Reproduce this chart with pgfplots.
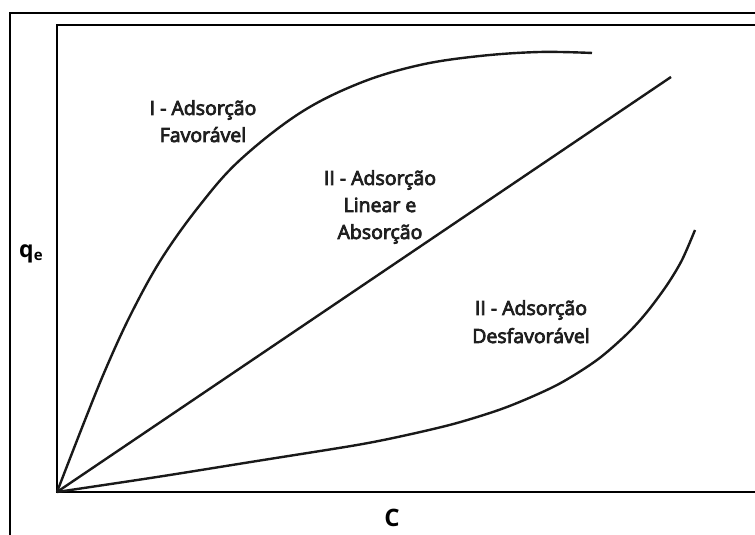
\documentclass[border=0pt]{standalone}
\usepackage{pgfplots}
\pgfplotsset{compat=1.18}
\usepackage{fontspec}
\setmainfont{Open Sans}
\newfontfamily\semibold{Open Sans}[FakeBold=4]

% curve data (C, q_e) in drawing units
\pgfplotstableread{
x y
0 0
28 72
50 126
75 180
105 234
143 287
183 332
243 379
303 409
363 427
423 436
483 440
535 439
}\favoravel
\pgfplotstableread{
x y
0 0
614 415
}\linear
\pgfplotstableread{
x y
0 0
100 15
200 31
300 47
350 57
400 69
450 85
500 107
540 132
570 158
590 180
610 207
625 232
638 262
}\desfavoravel

\begin{document}
\begin{tikzpicture}[x=1bp,y=1bp]
\useasboundingbox (0,0) rectangle (755,535);
% outer frame
\draw[line width=1.6bp,black] (10,-20) -- (10,522) -- (790,522);
\begin{axis}[
  at={(57bp,43bp)}, anchor=south west,
  scale only axis, width=710bp, height=467bp,
  xmin=0, xmax=710, ymin=0, ymax=467,
  ticks=none,
  axis line style={line width=1.6bp, black},
  clip=false,
]
\addplot[line width=2.4bp, color=black!90, smooth, tension=0.6] table {\favoravel};
\addplot[line width=2.4bp, color=black!90] table {\linear};
\addplot[line width=2.4bp, color=black!90, smooth, tension=0.5] table {\desfavoravel};

\begin{scope}[every node/.style={anchor=base, font=\semibold\fontsize{19.5bp}{23bp}\selectfont, text=black!88}]
\node at (axis cs:146,377) {I - Adsorção};
\node at (axis cs:146,350) {Favorável};
\node at (axis cs:323,307) {II - Adsorção};
\node at (axis cs:323,280) {Linear e};
\node at (axis cs:323,253) {Absorção};
\node at (axis cs:474,177) {II - Adsorção};
\node at (axis cs:474,149) {Desfavorável};
\end{scope}
\end{axis}
% axis titles
\node[anchor=base west, inner sep=0pt] at (19,277) {\fontsize{23bp}{26bp}\selectfont\bfseries q\raisebox{-3bp}{\fontsize{15bp}{17bp}\selectfont e}};
\node[anchor=base, inner sep=0pt] at (392,8) {\fontsize{24bp}{27bp}\selectfont\bfseries C};
\end{tikzpicture}
\end{document}
